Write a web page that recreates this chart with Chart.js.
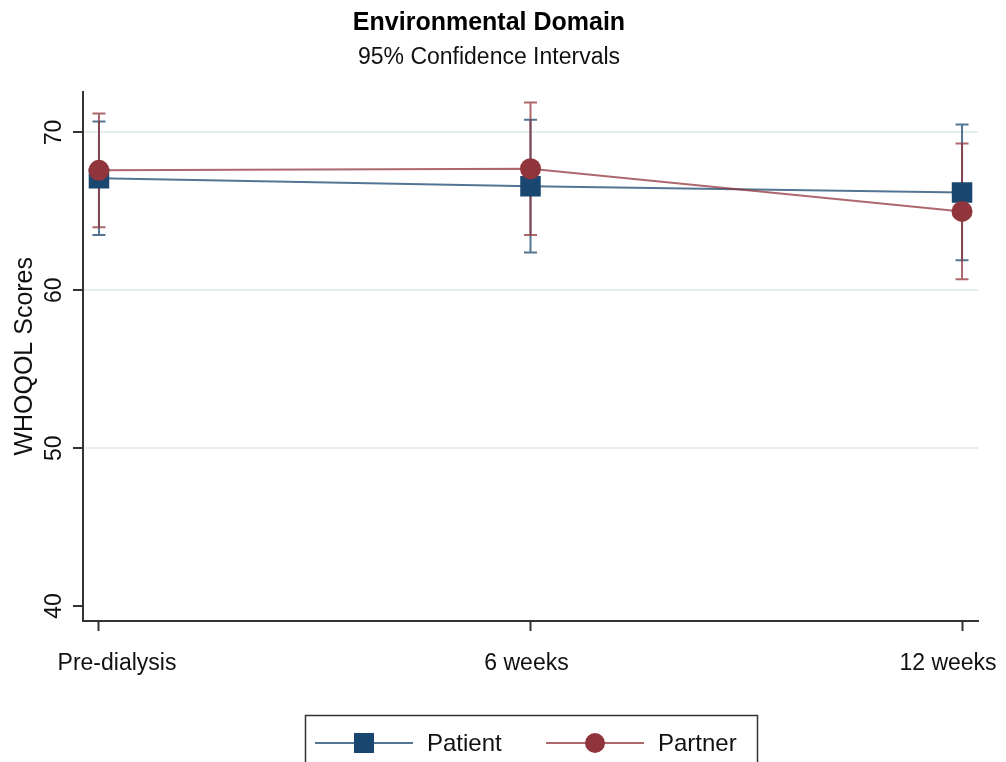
<!DOCTYPE html>
<html lang="en">
<head>
<meta charset="utf-8">
<title>Environmental Domain</title>
<script src="https://cdn.jsdelivr.net/npm/chart.js@4"></script>
<style>
  body { margin: 0; background: #fff; }
  #wrap { width: 1006px; height: 762px; }
</style>
</head>
<body>
<div id="wrap"><canvas id="chart" width="1006" height="762"></canvas></div>
<script>
// data
const timepoints = ["Pre-dialysis", "6 weeks", "12 weeks"];
const patientMean = [67.1, 66.6, 66.2];
const patientLow = [63.5, 62.4, 61.9];
const patientHigh = [70.7, 70.8, 70.5];
const partnerMean = [67.6, 67.7, 65.0];
const partnerLow = [64.0, 63.5, 60.7];
const partnerHigh = [71.2, 71.9, 69.3];
const yTicks = [40, 50, 60, 70];

const FONT = "'Liberation Sans', Arial, sans-serif";
const NAVY = "#1a476f";
const MAROON = "#90353b";
const NAVY_LINE = "rgba(26,71,111,0.75)";
const MAROON_LINE = "rgba(144,53,59,0.75)";

// confidence interval bars, drawn under the markers
const ciBars = {
  id: "ciBars",
  beforeDatasetsDraw(chart) {
    const { ctx, scales: { x, y } } = chart;
    const groups = [
      { low: patientLow, high: patientHigh, color: NAVY_LINE },
      { low: partnerLow, high: partnerHigh, color: MAROON_LINE }
    ];
    ctx.save();
    ctx.lineWidth = 2;
    groups.forEach(g => {
      ctx.strokeStyle = g.color;
      timepoints.forEach((t, i) => {
        const px = x.getPixelForValue(i);
        const lo = y.getPixelForValue(g.low[i]);
        const hi = y.getPixelForValue(g.high[i]);
        ctx.beginPath();
        ctx.moveTo(px, lo); ctx.lineTo(px, hi);
        ctx.moveTo(px - 6.5, lo); ctx.lineTo(px + 6.5, lo);
        ctx.moveTo(px - 6.5, hi); ctx.lineTo(px + 6.5, hi);
        ctx.stroke();
      });
    });
    ctx.restore();
  }
};

// x labels: the original nudges the end labels inwards so they fit
const xLabels = {
  id: "xLabels",
  afterDraw(chart) {
    const { ctx, scales: { x } } = chart;
    const nudge = [18, -4, -14];
    ctx.save();
    ctx.fillStyle = "#111";
    ctx.font = "23px " + FONT;
    ctx.textAlign = "center";
    ctx.textBaseline = "alphabetic";
    timepoints.forEach((t, i) => {
      ctx.fillText(t, x.getPixelForValue(i) + nudge[i], 670);
    });
    ctx.restore();
  }
};

// boxed legend at the bottom like the original
const boxLegend = {
  id: "boxLegend",
  afterDraw(chart) {
    const ctx = chart.ctx;
    ctx.save();
    ctx.strokeStyle = "#333";
    ctx.lineWidth = 1.5;
    ctx.strokeRect(305.5, 715.5, 452, 70);
    const cy = 743;
    // Patient
    ctx.strokeStyle = NAVY_LINE; ctx.lineWidth = 2;
    ctx.beginPath(); ctx.moveTo(315, cy); ctx.lineTo(413, cy); ctx.stroke();
    ctx.fillStyle = NAVY;
    ctx.fillRect(354, cy - 10, 20, 20);
    // Partner
    ctx.strokeStyle = MAROON_LINE;
    ctx.beginPath(); ctx.moveTo(546, cy); ctx.lineTo(644, cy); ctx.stroke();
    ctx.fillStyle = MAROON;
    ctx.beginPath(); ctx.arc(595, cy, 10, 0, Math.PI * 2); ctx.fill();
    ctx.fillStyle = "#111";
    ctx.font = "24px " + FONT;
    ctx.textBaseline = "middle";
    ctx.fillText("Patient", 427, cy + 1);
    ctx.fillText("Partner", 658, cy + 1);
    ctx.restore();
  }
};

new Chart(document.getElementById("chart"), {
  type: "line",
  data: {
    datasets: [
      {
        label: "Patient",
        data: timepoints.map((t, i) => ({ x: i, y: patientMean[i] })),
        borderColor: NAVY_LINE,
        borderWidth: 2,
        pointStyle: "rect",
        pointRadius: 14.5,
        pointBackgroundColor: NAVY,
        pointBorderColor: NAVY,
        pointBorderWidth: 0,
        order: 1
      },
      {
        label: "Partner",
        data: timepoints.map((t, i) => ({ x: i, y: partnerMean[i] })),
        borderColor: MAROON_LINE,
        borderWidth: 2,
        pointStyle: "circle",
        pointRadius: 10.5,
        pointBackgroundColor: MAROON,
        pointBorderColor: MAROON,
        pointBorderWidth: 0,
        order: 0
      }
    ]
  },
  options: {
    responsive: false,
    animation: false,
    devicePixelRatio: 1,
    layout: { padding: { left: 0, right: 28, top: 0, bottom: 81 } },
    plugins: {
      legend: { display: false },
      tooltip: { enabled: false },
      title: {
        display: true,
        text: "Environmental Domain",
        color: "#000",
        font: { family: FONT, size: 25, weight: "bold" },
        padding: { top: 8, bottom: 2 }
      },
      subtitle: {
        display: true,
        text: "95% Confidence Intervals",
        color: "#111",
        font: { family: FONT, size: 23 },
        padding: { top: 4, bottom: 20 }
      }
    },
    scales: {
      x: {
        type: "linear",
        min: -0.037,
        max: 2.037,
        afterBuildTicks: s => { s.ticks = timepoints.map((t, i) => ({ value: i })); },
        afterFit: s => { s.height = 60; s.paddingLeft = 0; s.paddingRight = 0; },
        ticks: { display: false },
        grid: { drawOnChartArea: false, tickLength: 10, tickColor: "#333", tickWidth: 2 },
        border: { color: "#333", width: 2 }
      },
      y: {
        min: 39.05,
        max: 72.59,
        afterBuildTicks: s => { s.ticks = yTicks.map(v => ({ value: v })); },
        afterFit: s => { s.width = 83; },
        title: {
          display: true,
          text: "WHOQOL Scores",
          color: "#111",
          font: { family: FONT, size: 25 },
          padding: { top: 10, bottom: 0 }
        },
        ticks: {
          color: "#111",
          font: { family: FONT, size: 23 },
          minRotation: 90,
          maxRotation: 90,
          crossAlign: "center",
          padding: 6
        },
        grid: {
          color: c => (c.tick && c.tick.value === 40 ? "rgba(0,0,0,0)" : "#e6efef"),
          lineWidth: 2,
          tickLength: 10,
          tickColor: "#333",
          tickWidth: 2
        },
        border: { color: "#333", width: 2 }
      }
    }
  },
  plugins: [ciBars, xLabels, boxLegend]
});
</script>
</body>
</html>
